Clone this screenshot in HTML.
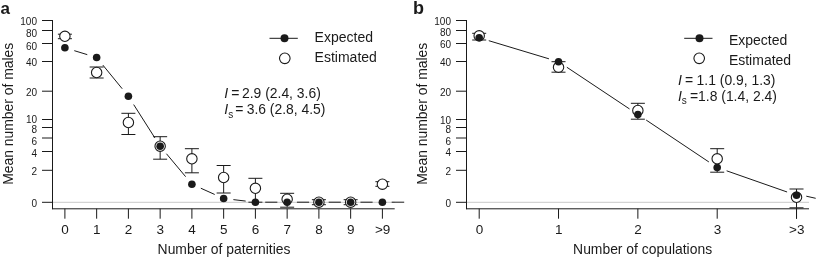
<!DOCTYPE html><html><head><meta charset="utf-8"><style>html,body{margin:0;padding:0;background:#fff}svg{display:block;filter:grayscale(1)}</style></head><body>
<svg width="817" height="258" viewBox="0 0 817 258" font-family="Liberation Sans, sans-serif">
<rect width="817" height="258" fill="#fff"/>
<line x1="52.50" y1="202.30" x2="394.70" y2="202.30" stroke="#c8c8c8" stroke-width="1" />
<line x1="52.50" y1="20.00" x2="52.50" y2="209.20" stroke="#1a1a1a" stroke-width="1" />
<line x1="52.00" y1="208.80" x2="394.70" y2="208.80" stroke="#1a1a1a" stroke-width="1" />
<line x1="42.00" y1="20.50" x2="52.50" y2="20.50" stroke="#1a1a1a" stroke-width="1" />
<text x="37.00" y="25.45" font-size="10" text-anchor="end" font-weight="normal" font-style="normal" fill="#1a1a1a" >100</text>
<line x1="42.00" y1="30.50" x2="52.50" y2="30.50" stroke="#1a1a1a" stroke-width="1" />
<text x="37.00" y="37.05" font-size="10" text-anchor="end" font-weight="normal" font-style="normal" fill="#1a1a1a" >80</text>
<line x1="42.00" y1="43.50" x2="52.50" y2="43.50" stroke="#1a1a1a" stroke-width="1" />
<text x="37.00" y="49.75" font-size="10" text-anchor="end" font-weight="normal" font-style="normal" fill="#1a1a1a" >60</text>
<line x1="42.00" y1="61.50" x2="52.50" y2="61.50" stroke="#1a1a1a" stroke-width="1" />
<text x="37.00" y="66.25" font-size="10" text-anchor="end" font-weight="normal" font-style="normal" fill="#1a1a1a" >40</text>
<line x1="42.00" y1="91.20" x2="52.50" y2="91.20" stroke="#1a1a1a" stroke-width="1" />
<text x="37.00" y="96.25" font-size="10" text-anchor="end" font-weight="normal" font-style="normal" fill="#1a1a1a" >20</text>
<line x1="42.00" y1="119.50" x2="52.50" y2="119.50" stroke="#1a1a1a" stroke-width="1" />
<text x="37.00" y="123.45" font-size="10" text-anchor="end" font-weight="normal" font-style="normal" fill="#1a1a1a" >10</text>
<line x1="42.00" y1="127.50" x2="52.50" y2="127.50" stroke="#1a1a1a" stroke-width="1" />
<text x="37.00" y="132.95" font-size="10" text-anchor="end" font-weight="normal" font-style="normal" fill="#1a1a1a" >8</text>
<line x1="42.00" y1="138.00" x2="52.50" y2="138.00" stroke="#1a1a1a" stroke-width="1" />
<text x="37.00" y="144.55" font-size="10" text-anchor="end" font-weight="normal" font-style="normal" fill="#1a1a1a" >6</text>
<line x1="42.00" y1="151.50" x2="52.50" y2="151.50" stroke="#1a1a1a" stroke-width="1" />
<text x="37.00" y="157.45" font-size="10" text-anchor="end" font-weight="normal" font-style="normal" fill="#1a1a1a" >4</text>
<line x1="42.00" y1="170.30" x2="52.50" y2="170.30" stroke="#1a1a1a" stroke-width="1" />
<text x="37.00" y="175.05" font-size="10" text-anchor="end" font-weight="normal" font-style="normal" fill="#1a1a1a" >2</text>
<line x1="42.00" y1="202.30" x2="52.50" y2="202.30" stroke="#1a1a1a" stroke-width="1" />
<text x="37.00" y="207.05" font-size="10" text-anchor="end" font-weight="normal" font-style="normal" fill="#1a1a1a" >0</text>
<line x1="64.90" y1="208.70" x2="64.90" y2="218.70" stroke="#1a1a1a" stroke-width="1" />
<text x="65.10" y="234.30" font-size="13.5" text-anchor="middle" font-weight="normal" font-style="normal" fill="#1a1a1a" >0</text>
<line x1="96.65" y1="208.70" x2="96.65" y2="218.70" stroke="#1a1a1a" stroke-width="1" />
<text x="96.85" y="234.30" font-size="13.5" text-anchor="middle" font-weight="normal" font-style="normal" fill="#1a1a1a" >1</text>
<line x1="128.40" y1="208.70" x2="128.40" y2="218.70" stroke="#1a1a1a" stroke-width="1" />
<text x="128.60" y="234.30" font-size="13.5" text-anchor="middle" font-weight="normal" font-style="normal" fill="#1a1a1a" >2</text>
<line x1="160.15" y1="208.70" x2="160.15" y2="218.70" stroke="#1a1a1a" stroke-width="1" />
<text x="160.35" y="234.30" font-size="13.5" text-anchor="middle" font-weight="normal" font-style="normal" fill="#1a1a1a" >3</text>
<line x1="191.90" y1="208.70" x2="191.90" y2="218.70" stroke="#1a1a1a" stroke-width="1" />
<text x="192.10" y="234.30" font-size="13.5" text-anchor="middle" font-weight="normal" font-style="normal" fill="#1a1a1a" >4</text>
<line x1="223.65" y1="208.70" x2="223.65" y2="218.70" stroke="#1a1a1a" stroke-width="1" />
<text x="223.85" y="234.30" font-size="13.5" text-anchor="middle" font-weight="normal" font-style="normal" fill="#1a1a1a" >5</text>
<line x1="255.40" y1="208.70" x2="255.40" y2="218.70" stroke="#1a1a1a" stroke-width="1" />
<text x="255.60" y="234.30" font-size="13.5" text-anchor="middle" font-weight="normal" font-style="normal" fill="#1a1a1a" >6</text>
<line x1="287.15" y1="208.70" x2="287.15" y2="218.70" stroke="#1a1a1a" stroke-width="1" />
<text x="287.35" y="234.30" font-size="13.5" text-anchor="middle" font-weight="normal" font-style="normal" fill="#1a1a1a" >7</text>
<line x1="318.90" y1="208.70" x2="318.90" y2="218.70" stroke="#1a1a1a" stroke-width="1" />
<text x="319.10" y="234.30" font-size="13.5" text-anchor="middle" font-weight="normal" font-style="normal" fill="#1a1a1a" >8</text>
<line x1="350.65" y1="208.70" x2="350.65" y2="218.70" stroke="#1a1a1a" stroke-width="1" />
<text x="350.85" y="234.30" font-size="13.5" text-anchor="middle" font-weight="normal" font-style="normal" fill="#1a1a1a" >9</text>
<line x1="382.40" y1="208.70" x2="382.40" y2="218.70" stroke="#1a1a1a" stroke-width="1" />
<text x="382.60" y="234.30" font-size="13.5" text-anchor="middle" font-weight="normal" font-style="normal" fill="#1a1a1a" >&gt;9</text>
<text x="224.00" y="253.50" font-size="13.9" text-anchor="middle" font-weight="normal" font-style="normal" fill="#1a1a1a" >Number of paternities</text>
<text x="0.40" y="13.50" font-size="17" text-anchor="start" font-weight="bold" font-style="normal" fill="#1a1a1a" >a</text>
<text transform="translate(13.10,113.8) rotate(-90)" font-size="13.9" text-anchor="middle" fill="#1a1a1a">Mean number of males</text>
<line x1="64.90" y1="34.20" x2="64.90" y2="38.70" stroke="#1a1a1a" stroke-width="1" />
<line x1="57.90" y1="34.20" x2="71.90" y2="34.20" stroke="#1a1a1a" stroke-width="1" />
<line x1="57.90" y1="38.70" x2="71.90" y2="38.70" stroke="#1a1a1a" stroke-width="1" />
<line x1="96.65" y1="67.00" x2="96.65" y2="78.00" stroke="#1a1a1a" stroke-width="1" />
<line x1="89.65" y1="67.00" x2="103.65" y2="67.00" stroke="#1a1a1a" stroke-width="1" />
<line x1="89.65" y1="78.00" x2="103.65" y2="78.00" stroke="#1a1a1a" stroke-width="1" />
<line x1="128.40" y1="113.30" x2="128.40" y2="134.50" stroke="#1a1a1a" stroke-width="1" />
<line x1="121.40" y1="113.30" x2="135.40" y2="113.30" stroke="#1a1a1a" stroke-width="1" />
<line x1="121.40" y1="134.50" x2="135.40" y2="134.50" stroke="#1a1a1a" stroke-width="1" />
<line x1="160.15" y1="136.70" x2="160.15" y2="159.20" stroke="#1a1a1a" stroke-width="1" />
<line x1="153.15" y1="136.70" x2="167.15" y2="136.70" stroke="#1a1a1a" stroke-width="1" />
<line x1="153.15" y1="159.20" x2="167.15" y2="159.20" stroke="#1a1a1a" stroke-width="1" />
<line x1="191.90" y1="148.70" x2="191.90" y2="172.80" stroke="#1a1a1a" stroke-width="1" />
<line x1="184.90" y1="148.70" x2="198.90" y2="148.70" stroke="#1a1a1a" stroke-width="1" />
<line x1="184.90" y1="172.80" x2="198.90" y2="172.80" stroke="#1a1a1a" stroke-width="1" />
<line x1="223.65" y1="165.50" x2="223.65" y2="193.00" stroke="#1a1a1a" stroke-width="1" />
<line x1="216.65" y1="165.50" x2="230.65" y2="165.50" stroke="#1a1a1a" stroke-width="1" />
<line x1="216.65" y1="193.00" x2="230.65" y2="193.00" stroke="#1a1a1a" stroke-width="1" />
<line x1="255.40" y1="178.30" x2="255.40" y2="202.20" stroke="#1a1a1a" stroke-width="1" />
<line x1="248.40" y1="178.30" x2="262.40" y2="178.30" stroke="#1a1a1a" stroke-width="1" />
<line x1="248.40" y1="202.20" x2="262.40" y2="202.20" stroke="#1a1a1a" stroke-width="1" />
<line x1="287.15" y1="193.30" x2="287.15" y2="207.20" stroke="#1a1a1a" stroke-width="1" />
<line x1="280.15" y1="193.30" x2="294.15" y2="193.30" stroke="#1a1a1a" stroke-width="1" />
<line x1="280.15" y1="207.20" x2="294.15" y2="207.20" stroke="#1a1a1a" stroke-width="1" />
<line x1="318.90" y1="199.70" x2="318.90" y2="204.70" stroke="#1a1a1a" stroke-width="1" />
<line x1="311.90" y1="199.70" x2="325.90" y2="199.70" stroke="#1a1a1a" stroke-width="1" />
<line x1="311.90" y1="204.70" x2="325.90" y2="204.70" stroke="#1a1a1a" stroke-width="1" />
<line x1="350.65" y1="199.70" x2="350.65" y2="204.70" stroke="#1a1a1a" stroke-width="1" />
<line x1="343.65" y1="199.70" x2="357.65" y2="199.70" stroke="#1a1a1a" stroke-width="1" />
<line x1="343.65" y1="204.70" x2="357.65" y2="204.70" stroke="#1a1a1a" stroke-width="1" />
<line x1="382.40" y1="181.70" x2="382.40" y2="186.30" stroke="#1a1a1a" stroke-width="1" />
<line x1="375.40" y1="181.70" x2="389.40" y2="181.70" stroke="#1a1a1a" stroke-width="1" />
<line x1="375.40" y1="186.30" x2="389.40" y2="186.30" stroke="#1a1a1a" stroke-width="1" />
<line x1="74.27" y1="50.66" x2="87.28" y2="54.64" stroke="#1a1a1a" stroke-width="1" />
<line x1="102.86" y1="65.08" x2="122.19" y2="88.72" stroke="#1a1a1a" stroke-width="1" />
<line x1="133.66" y1="104.57" x2="154.89" y2="137.93" stroke="#1a1a1a" stroke-width="1" />
<line x1="166.43" y1="153.72" x2="185.62" y2="176.68" stroke="#1a1a1a" stroke-width="1" />
<line x1="200.84" y1="188.22" x2="214.71" y2="194.48" stroke="#1a1a1a" stroke-width="1" />
<line x1="233.38" y1="199.63" x2="245.67" y2="201.07" stroke="#1a1a1a" stroke-width="1" />
<line x1="265.20" y1="202.20" x2="277.35" y2="202.20" stroke="#1a1a1a" stroke-width="1" />
<line x1="296.95" y1="202.20" x2="309.10" y2="202.20" stroke="#1a1a1a" stroke-width="1" />
<line x1="328.70" y1="202.20" x2="340.85" y2="202.20" stroke="#1a1a1a" stroke-width="1" />
<line x1="360.45" y1="202.20" x2="372.60" y2="202.20" stroke="#1a1a1a" stroke-width="1" />
<circle cx="64.90" cy="36.30" r="5.2" fill="#fff" stroke="#1a1a1a" stroke-width="1.1"/>
<circle cx="96.65" cy="72.50" r="5.2" fill="#fff" stroke="#1a1a1a" stroke-width="1.1"/>
<circle cx="128.40" cy="122.50" r="5.2" fill="#fff" stroke="#1a1a1a" stroke-width="1.1"/>
<circle cx="160.15" cy="146.20" r="5.2" fill="#fff" stroke="#1a1a1a" stroke-width="1.1"/>
<circle cx="191.90" cy="158.80" r="5.2" fill="#fff" stroke="#1a1a1a" stroke-width="1.1"/>
<circle cx="223.65" cy="177.50" r="5.2" fill="#fff" stroke="#1a1a1a" stroke-width="1.1"/>
<circle cx="255.40" cy="188.30" r="5.2" fill="#fff" stroke="#1a1a1a" stroke-width="1.1"/>
<circle cx="287.15" cy="199.20" r="5.2" fill="#fff" stroke="#1a1a1a" stroke-width="1.1"/>
<circle cx="318.90" cy="202.20" r="5.2" fill="#fff" stroke="#1a1a1a" stroke-width="1.1"/>
<circle cx="350.65" cy="202.20" r="5.2" fill="#fff" stroke="#1a1a1a" stroke-width="1.1"/>
<circle cx="382.40" cy="184.20" r="5.2" fill="#fff" stroke="#1a1a1a" stroke-width="1.1"/>
<circle cx="64.90" cy="47.80" r="3.8" fill="#1a1a1a"/>
<circle cx="96.65" cy="57.50" r="3.8" fill="#1a1a1a"/>
<circle cx="128.40" cy="96.30" r="3.8" fill="#1a1a1a"/>
<circle cx="160.15" cy="146.20" r="3.8" fill="#1a1a1a"/>
<circle cx="191.90" cy="184.20" r="3.8" fill="#1a1a1a"/>
<circle cx="223.65" cy="198.50" r="3.8" fill="#1a1a1a"/>
<circle cx="255.40" cy="202.20" r="3.8" fill="#1a1a1a"/>
<circle cx="287.15" cy="202.20" r="3.8" fill="#1a1a1a"/>
<circle cx="318.90" cy="202.20" r="3.8" fill="#1a1a1a"/>
<circle cx="350.65" cy="202.20" r="3.8" fill="#1a1a1a"/>
<circle cx="382.40" cy="202.20" r="3.8" fill="#1a1a1a"/>
<line x1="391.70" y1="202.20" x2="404.20" y2="202.20" stroke="#1a1a1a" stroke-width="1" />
<line x1="269.50" y1="38.30" x2="297.80" y2="38.30" stroke="#1a1a1a" stroke-width="1" />
<circle cx="284.50" cy="38.30" r="4" fill="#1a1a1a"/>
<circle cx="284.80" cy="58.30" r="5.3" fill="#fff" stroke="#1a1a1a" stroke-width="1.1"/>
<text x="314.60" y="41.70" font-size="14" text-anchor="start" font-weight="normal" font-style="normal" fill="#1a1a1a" >Expected</text>
<text x="314.60" y="61.70" font-size="14" text-anchor="start" font-weight="normal" font-style="normal" fill="#1a1a1a" >Estimated</text>
<text x="224.3" y="97.5" font-size="14" font-style="italic" fill="#1a1a1a">I</text>
<text x="231.3" y="97.5" font-size="14" fill="#1a1a1a">=</text>
<text x="242.0" y="97.5" font-size="13.9" fill="#1a1a1a">2.9 (2.4, 3.6)</text>
<text x="224.3" y="113.7" font-size="14" font-style="italic" fill="#1a1a1a">I</text>
<text x="228.20000000000002" y="117.5" font-size="10" fill="#1a1a1a">s</text>
<text x="235.3" y="113.7" font-size="14" fill="#1a1a1a">=</text>
<text x="246.70000000000002" y="113.7" font-size="13.9" fill="#1a1a1a">3.6 (2.8, 4.5)</text>
<line x1="466.50" y1="202.30" x2="809.00" y2="202.30" stroke="#c8c8c8" stroke-width="1" />
<line x1="466.50" y1="20.00" x2="466.50" y2="209.20" stroke="#1a1a1a" stroke-width="1" />
<line x1="466.00" y1="208.80" x2="809.00" y2="208.80" stroke="#1a1a1a" stroke-width="1" />
<line x1="456.00" y1="20.50" x2="466.50" y2="20.50" stroke="#1a1a1a" stroke-width="1" />
<text x="451.00" y="25.45" font-size="10" text-anchor="end" font-weight="normal" font-style="normal" fill="#1a1a1a" >100</text>
<line x1="456.00" y1="30.50" x2="466.50" y2="30.50" stroke="#1a1a1a" stroke-width="1" />
<text x="451.00" y="35.75" font-size="10" text-anchor="end" font-weight="normal" font-style="normal" fill="#1a1a1a" >80</text>
<line x1="456.00" y1="43.50" x2="466.50" y2="43.50" stroke="#1a1a1a" stroke-width="1" />
<text x="451.00" y="48.45" font-size="10" text-anchor="end" font-weight="normal" font-style="normal" fill="#1a1a1a" >60</text>
<line x1="456.00" y1="61.50" x2="466.50" y2="61.50" stroke="#1a1a1a" stroke-width="1" />
<text x="451.00" y="66.25" font-size="10" text-anchor="end" font-weight="normal" font-style="normal" fill="#1a1a1a" >40</text>
<line x1="456.00" y1="91.20" x2="466.50" y2="91.20" stroke="#1a1a1a" stroke-width="1" />
<text x="451.00" y="96.25" font-size="10" text-anchor="end" font-weight="normal" font-style="normal" fill="#1a1a1a" >20</text>
<line x1="456.00" y1="119.50" x2="466.50" y2="119.50" stroke="#1a1a1a" stroke-width="1" />
<text x="451.00" y="123.95" font-size="10" text-anchor="end" font-weight="normal" font-style="normal" fill="#1a1a1a" >10</text>
<line x1="456.00" y1="127.50" x2="466.50" y2="127.50" stroke="#1a1a1a" stroke-width="1" />
<text x="451.00" y="132.95" font-size="10" text-anchor="end" font-weight="normal" font-style="normal" fill="#1a1a1a" >8</text>
<line x1="456.00" y1="138.00" x2="466.50" y2="138.00" stroke="#1a1a1a" stroke-width="1" />
<text x="451.00" y="144.55" font-size="10" text-anchor="end" font-weight="normal" font-style="normal" fill="#1a1a1a" >6</text>
<line x1="456.00" y1="151.50" x2="466.50" y2="151.50" stroke="#1a1a1a" stroke-width="1" />
<text x="451.00" y="156.25" font-size="10" text-anchor="end" font-weight="normal" font-style="normal" fill="#1a1a1a" >4</text>
<line x1="456.00" y1="170.30" x2="466.50" y2="170.30" stroke="#1a1a1a" stroke-width="1" />
<text x="451.00" y="175.05" font-size="10" text-anchor="end" font-weight="normal" font-style="normal" fill="#1a1a1a" >2</text>
<line x1="456.00" y1="202.30" x2="466.50" y2="202.30" stroke="#1a1a1a" stroke-width="1" />
<text x="451.00" y="207.05" font-size="10" text-anchor="end" font-weight="normal" font-style="normal" fill="#1a1a1a" >0</text>
<line x1="479.20" y1="208.70" x2="479.20" y2="218.70" stroke="#1a1a1a" stroke-width="1" />
<text x="479.40" y="234.30" font-size="13.5" text-anchor="middle" font-weight="normal" font-style="normal" fill="#1a1a1a" >0</text>
<line x1="558.53" y1="208.70" x2="558.53" y2="218.70" stroke="#1a1a1a" stroke-width="1" />
<text x="558.73" y="234.30" font-size="13.5" text-anchor="middle" font-weight="normal" font-style="normal" fill="#1a1a1a" >1</text>
<line x1="637.86" y1="208.70" x2="637.86" y2="218.70" stroke="#1a1a1a" stroke-width="1" />
<text x="638.06" y="234.30" font-size="13.5" text-anchor="middle" font-weight="normal" font-style="normal" fill="#1a1a1a" >2</text>
<line x1="717.19" y1="208.70" x2="717.19" y2="218.70" stroke="#1a1a1a" stroke-width="1" />
<text x="717.39" y="234.30" font-size="13.5" text-anchor="middle" font-weight="normal" font-style="normal" fill="#1a1a1a" >3</text>
<line x1="796.52" y1="208.70" x2="796.52" y2="218.70" stroke="#1a1a1a" stroke-width="1" />
<text x="796.72" y="234.30" font-size="13.5" text-anchor="middle" font-weight="normal" font-style="normal" fill="#1a1a1a" >&gt;3</text>
<text x="642.60" y="253.50" font-size="13.9" text-anchor="middle" font-weight="normal" font-style="normal" fill="#1a1a1a" >Number of copulations</text>
<text x="413.00" y="13.50" font-size="18" text-anchor="start" font-weight="bold" font-style="normal" fill="#1a1a1a" >b</text>
<text transform="translate(427.10,113.8) rotate(-90)" font-size="13.9" text-anchor="middle" fill="#1a1a1a">Mean number of males</text>
<line x1="479.20" y1="33.30" x2="479.20" y2="40.00" stroke="#1a1a1a" stroke-width="1" />
<line x1="472.20" y1="33.30" x2="486.20" y2="33.30" stroke="#1a1a1a" stroke-width="1" />
<line x1="472.20" y1="40.00" x2="486.20" y2="40.00" stroke="#1a1a1a" stroke-width="1" />
<line x1="558.53" y1="61.70" x2="558.53" y2="72.20" stroke="#1a1a1a" stroke-width="1" />
<line x1="551.53" y1="61.70" x2="565.53" y2="61.70" stroke="#1a1a1a" stroke-width="1" />
<line x1="551.53" y1="72.20" x2="565.53" y2="72.20" stroke="#1a1a1a" stroke-width="1" />
<line x1="637.86" y1="103.30" x2="637.86" y2="119.20" stroke="#1a1a1a" stroke-width="1" />
<line x1="630.86" y1="103.30" x2="644.86" y2="103.30" stroke="#1a1a1a" stroke-width="1" />
<line x1="630.86" y1="119.20" x2="644.86" y2="119.20" stroke="#1a1a1a" stroke-width="1" />
<line x1="717.19" y1="148.70" x2="717.19" y2="172.20" stroke="#1a1a1a" stroke-width="1" />
<line x1="710.19" y1="148.70" x2="724.19" y2="148.70" stroke="#1a1a1a" stroke-width="1" />
<line x1="710.19" y1="172.20" x2="724.19" y2="172.20" stroke="#1a1a1a" stroke-width="1" />
<line x1="796.52" y1="189.00" x2="796.52" y2="207.80" stroke="#1a1a1a" stroke-width="1" />
<line x1="789.52" y1="189.00" x2="803.52" y2="189.00" stroke="#1a1a1a" stroke-width="1" />
<line x1="789.52" y1="207.80" x2="803.52" y2="207.80" stroke="#1a1a1a" stroke-width="1" />
<line x1="488.77" y1="40.68" x2="548.96" y2="58.82" stroke="#1a1a1a" stroke-width="1" />
<line x1="566.85" y1="67.24" x2="629.54" y2="108.96" stroke="#1a1a1a" stroke-width="1" />
<line x1="646.18" y1="120.06" x2="708.87" y2="161.94" stroke="#1a1a1a" stroke-width="1" />
<line x1="726.63" y1="170.81" x2="787.08" y2="191.99" stroke="#1a1a1a" stroke-width="1" />
<circle cx="479.20" cy="35.80" r="5.2" fill="#fff" stroke="#1a1a1a" stroke-width="1.1"/>
<circle cx="558.53" cy="67.20" r="5.2" fill="#fff" stroke="#1a1a1a" stroke-width="1.1"/>
<circle cx="637.86" cy="110.50" r="5.2" fill="#fff" stroke="#1a1a1a" stroke-width="1.1"/>
<circle cx="717.19" cy="158.80" r="5.2" fill="#fff" stroke="#1a1a1a" stroke-width="1.1"/>
<circle cx="796.52" cy="197.30" r="5.2" fill="#fff" stroke="#1a1a1a" stroke-width="1.1"/>
<circle cx="479.20" cy="37.80" r="3.8" fill="#1a1a1a"/>
<circle cx="558.53" cy="61.70" r="3.8" fill="#1a1a1a"/>
<circle cx="637.86" cy="114.50" r="3.8" fill="#1a1a1a"/>
<circle cx="717.19" cy="167.50" r="3.8" fill="#1a1a1a"/>
<circle cx="796.52" cy="195.30" r="3.8" fill="#1a1a1a"/>
<line x1="796.52" y1="207.80" x2="796.52" y2="218.70" stroke="#1a1a1a" stroke-width="1" />
<line x1="806.30" y1="196.20" x2="815.70" y2="198.30" stroke="#1a1a1a" stroke-width="1" />
<line x1="684.20" y1="38.30" x2="712.50" y2="38.30" stroke="#1a1a1a" stroke-width="1" />
<circle cx="699.50" cy="38.30" r="4" fill="#1a1a1a"/>
<circle cx="699.20" cy="58.30" r="5.3" fill="#fff" stroke="#1a1a1a" stroke-width="1.1"/>
<text x="728.90" y="44.50" font-size="14" text-anchor="start" font-weight="normal" font-style="normal" fill="#1a1a1a" >Expected</text>
<text x="728.90" y="64.50" font-size="14" text-anchor="start" font-weight="normal" font-style="normal" fill="#1a1a1a" >Estimated</text>
<text x="677.9" y="84.7" font-size="14" font-style="italic" fill="#1a1a1a">I</text>
<text x="684.9" y="84.7" font-size="14" fill="#1a1a1a">=</text>
<text x="696.6" y="84.7" font-size="13.9" fill="#1a1a1a">1.1 (0.9, 1.3)</text>
<text x="677.9" y="100.5" font-size="14" font-style="italic" fill="#1a1a1a">I</text>
<text x="681.8" y="104.3" font-size="10" fill="#1a1a1a">s</text>
<text x="689.9" y="100.5" font-size="14" fill="#1a1a1a">=</text>
<text x="698.1" y="100.5" font-size="13.9" fill="#1a1a1a">1.8 (1.4, 2.4)</text>
</svg></body></html>
